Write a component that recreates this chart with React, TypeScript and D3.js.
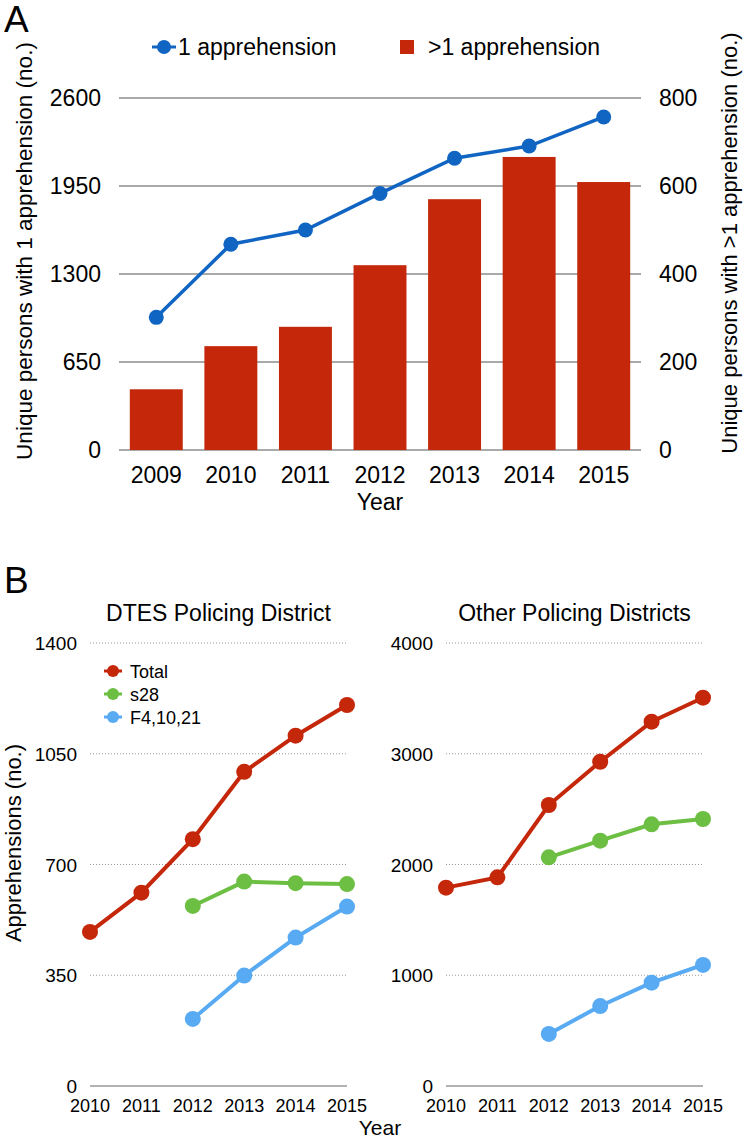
import React from "react";
import * as d3 from "d3";

const yearsA = ["2009", "2010", "2011", "2012", "2013", "2014", "2015"];
const oneApprehension = [980, 1520, 1625, 1895, 2155, 2245, 2460];
const multiApprehension = [138, 236, 280, 420, 570, 666, 609];
const leftTicksA = [0, 650, 1300, 1950, 2600];
const rightTicksA = [0, 200, 400, 600, 800];

const yearsB = [2010, 2011, 2012, 2013, 2014, 2015];
const dtesTotal = [487, 611, 780, 993, 1107, 1204];
const dtesS28 = [null, null, 569, 646, 641, 638];
const dtesF = [null, null, 212, 349, 469, 567];
const otherTotal = [1791, 1884, 2537, 2928, 3290, 3506];
const otherS28 = [null, null, 2065, 2215, 2363, 2411];
const otherF = [null, null, 470, 722, 933, 1093];
const dtesTicks = [0, 350, 700, 1050, 1400];
const otherTicks = [0, 1000, 2000, 3000, 4000];

const FONT = "'Liberation Sans', Arial, Helvetica, sans-serif";
const BLUE = "#1064c2";
const RED = "#c4270a";
const GREEN = "#6cbf42";
const LBLUE = "#58aaf2";

function PanelB({ x0, x1, title, total, s28, f, ticks, max, showLegend }: any) {
  const x = d3.scalePoint<number>().domain(yearsB).range([x0, x1]).padding(0);
  const y = d3.scaleLinear().domain([0, max]).range([1086, 643]);
  const series = [
    { data: total, color: RED },
    { data: s28, color: GREEN },
    { data: f, color: LBLUE },
  ];
  const line = d3
    .line<any>()
    .defined((d) => d.v != null)
    .x((d) => x(d.year)!)
    .y((d) => y(d.v));
  return (
    <g>
      <text x={(x0 + x1) / 2} y={621} textAnchor="middle" fontSize={23} fontFamily={FONT}>
        {title}
      </text>
      {ticks.map((t: number) => (
        <g key={t}>
          {t === 0 ? (
            <line x1={x0} x2={x1} y1={y(t)} y2={y(t)} stroke="#666" strokeWidth={1.2} />
          ) : (
            <line x1={x0} x2={x1} y1={y(t)} y2={y(t)} stroke="#999" strokeWidth={1} strokeDasharray="1,2" />
          )}
          <text x={x0 - 13} y={y(t) + 7} textAnchor="end" fontSize={19} fontFamily={FONT}>
            {t}
          </text>
        </g>
      ))}
      {yearsB.map((yr) => (
        <text key={yr} x={x(yr)} y={1112} textAnchor="middle" fontSize={18} fontFamily={FONT}>
          {yr}
        </text>
      ))}
      {series.map((s, i) => {
        const pts = yearsB.map((yr, j) => ({ year: yr, v: s.data[j] }));
        return (
          <g key={i}>
            <path d={line(pts) || ""} fill="none" stroke={s.color} strokeWidth={4} />
            {pts
              .filter((p) => p.v != null)
              .map((p) => (
                <circle key={p.year} cx={x(p.year)} cy={y(p.v)} r={8} fill={s.color} />
              ))}
          </g>
        );
      })}
      {showLegend &&
        [
          { label: "Total", color: RED },
          { label: "s28", color: GREEN },
          { label: "F4,10,21", color: LBLUE },
        ].map((l, i) => (
          <g key={l.label}>
            <line x1={104} x2={122} y1={671 + i * 23} y2={671 + i * 23} stroke={l.color} strokeWidth={3} />
            <circle cx={113} cy={671 + i * 23} r={6} fill={l.color} />
            <text x={130} y={678 + i * 23} fontSize={18} fontFamily={FONT}>
              {l.label}
            </text>
          </g>
        ))}
    </g>
  );
}

export default function App() {
  const xA = d3.scaleBand().domain(yearsA).range([119, 641]).paddingInner(0.29).paddingOuter(0.145);
  const yL = d3.scaleLinear().domain([0, 2600]).range([450, 98]);
  const yR = d3.scaleLinear().domain([0, 800]).range([450, 98]);
  const lineA = d3
    .line<number>()
    .x((_, i) => xA(yearsA[i])! + xA.bandwidth() / 2)
    .y((d) => yL(d));

  return (
    <svg
      width={744}
      height={1140}
      style={{ position: "absolute", left: 0, top: 0, background: "#fff" }}
      fontFamily={FONT}
    >
      <rect width={744} height={1140} fill="#fff" />
      {/* Panel A */}
      <text x={4} y={32} fontSize={37} fontFamily={FONT}>A</text>
      <line x1={152} x2={176} y1={47} y2={47} stroke={BLUE} strokeWidth={3} />
      <circle cx={164} cy={47} r={7} fill={BLUE} />
      <text x={178} y={55} fontSize={23} fontFamily={FONT}>1 apprehension</text>
      <rect x={400} y={40} width={14} height={14} fill={RED} />
      <text x={428} y={55} fontSize={23} fontFamily={FONT}>&gt;1 apprehension</text>

      {leftTicksA.map((t) => (
        <g key={t}>
          <line x1={119} x2={641} y1={yL(t)} y2={yL(t)} stroke="#555" strokeWidth={1} />
          <text x={101} y={yL(t) + 8} textAnchor="end" fontSize={23} fontFamily={FONT}>
            {t}
          </text>
        </g>
      ))}
      {rightTicksA.map((t) => (
        <text key={t} x={659} y={yR(t) + 8} fontSize={23} fontFamily={FONT}>
          {t}
        </text>
      ))}
      {multiApprehension.map((v, i) => (
        <rect
          key={i}
          x={xA(yearsA[i])}
          y={yR(v)}
          width={xA.bandwidth()}
          height={yR(0) - yR(v)}
          fill={RED}
        />
      ))}
      <path d={lineA(oneApprehension) || ""} fill="none" stroke={BLUE} strokeWidth={3.5} />
      {oneApprehension.map((v, i) => (
        <circle key={i} cx={xA(yearsA[i])! + xA.bandwidth() / 2} cy={yL(v)} r={7.5} fill={BLUE} />
      ))}
      {yearsA.map((yr) => (
        <text key={yr} x={xA(yr)! + xA.bandwidth() / 2} y={483} textAnchor="middle" fontSize={23} fontFamily={FONT}>
          {yr}
        </text>
      ))}
      <text x={380} y={510} textAnchor="middle" fontSize={23} fontFamily={FONT}>Year</text>
      <text
        transform="translate(32,251) rotate(-90)"
        textAnchor="middle"
        fontSize={22.5}
        fontFamily={FONT}
      >
        Unique persons with 1 apprehension (no.)
      </text>
      <text
        transform="translate(737,243) rotate(-90)"
        textAnchor="middle"
        fontSize={22}
        fontFamily={FONT}
      >
        Unique persons with &gt;1 apprehension (no.)
      </text>

      {/* Panel B */}
      <text x={4} y={593} fontSize={37} fontFamily={FONT}>B</text>
      <PanelB
        x0={90}
        x1={347}
        title="DTES Policing District"
        total={dtesTotal}
        s28={dtesS28}
        f={dtesF}
        ticks={dtesTicks}
        max={1400}
        showLegend={true}
      />
      <PanelB
        x0={446}
        x1={703}
        title="Other Policing Districts"
        total={otherTotal}
        s28={otherS28}
        f={otherF}
        ticks={otherTicks}
        max={4000}
        showLegend={false}
      />
      <text x={380} y={1135} textAnchor="middle" fontSize={21} fontFamily={FONT}>Year</text>
      <text
        transform="translate(21,843) rotate(-90)"
        textAnchor="middle"
        fontSize={22}
        fontFamily={FONT}
      >
        Apprehensions (no.)
      </text>
    </svg>
  );
}
